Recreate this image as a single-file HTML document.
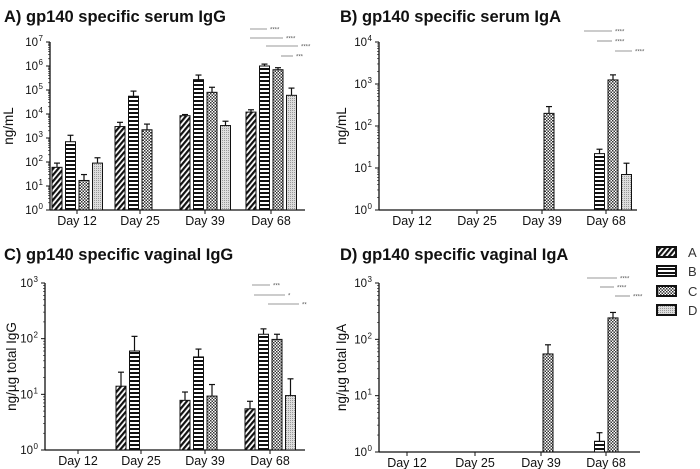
<!DOCTYPE html>
<html><head><meta charset="utf-8">
<style>
body{margin:0;background:#fff;width:700px;height:469px;overflow:hidden;font-family:"Liberation Sans",Arial,sans-serif}
svg{display:block}
</style></head>
<body>
<svg id="fig" width="700" height="469" viewBox="0 0 700 469" xmlns="http://www.w3.org/2000/svg">
<defs>
<pattern id="pA" width="4" height="4" patternUnits="userSpaceOnUse" patternTransform="rotate(40)">
<rect width="4" height="4" fill="#fff"/><rect width="2.2" height="4" fill="#111"/></pattern>
<pattern id="pB" width="4" height="4" patternUnits="userSpaceOnUse">
<rect width="4" height="4" fill="#fff"/><rect width="4" height="2" fill="#111"/></pattern>
<pattern id="pC" width="3" height="3" patternUnits="userSpaceOnUse">
<rect width="3" height="3" fill="#fff"/><rect width="1.5" height="1.5" fill="#333"/><rect x="1.5" y="1.5" width="1.5" height="1.5" fill="#333"/></pattern>
<pattern id="pD" width="2" height="2" patternUnits="userSpaceOnUse">
<rect width="2" height="2" fill="#ddd"/><rect width="1" height="1" fill="#999"/></pattern>
</defs>
</svg>
<script>
// categories
const days = ["Day 12","Day 25","Day 39","Day 68"];
const groups = ["A","B","C","D"];
// Panel A: serum IgG (null = no bar)
const aMean = [[60,700,17,90],[3000,55000,2200,null],[8500,270000,80000,3300],[12000,1000000,700000,60000]];
const aErr  = [[90,1300,30,150],[4500,90000,3800,null],[9500,420000,130000,5000],[15000,1200000,850000,120000]];
const aTicks = [0,1,2,3,4,5,6,7];
// Panel B: serum IgA
const bMean = [[null,null,null,null],[null,null,null,null],[null,null,200,null],[null,22,1250,7]];
const bErr  = [[null,null,null,null],[null,null,null,null],[null,null,290,null],[null,28,1650,13]];
const bTicks = [0,1,2,3,4];
// Panel C: vaginal IgG
const cMean = [[null,null,null,null],[14,60,null,null],[7.8,47,9.3,null],[5.5,120,97,9.5]];
const cErr  = [[null,null,null,null],[25,110,null,null],[11,65,15,null],[7.5,150,120,19]];
const cTicks = [0,1,2,3];
// Panel D: vaginal IgA
const dMean = [[null,null,null,null],[null,null,null,null],[null,null,55,null],[null,1.55,240,null]];
const dErr  = [[null,null,null,null],[null,null,null,null],[null,null,80,null],[null,2.2,300,null]];
const dTicks = [0,1,2,3];
// significance labels
const aSig = ["****","****","****","***"];
const bSig = ["****","****","****"];
const cSig = ["***","*","**"];
const dSig = ["****","****","****"];

const NS="http://www.w3.org/2000/svg";
const svg=document.getElementById('fig');
const fills=["url(#pA)","url(#pB)","url(#pC)","url(#pD)"];
function mk(tag,attrs,parent){const e=document.createElementNS(NS,tag);for(const k in attrs)e.setAttribute(k,attrs[k]);(parent||svg).appendChild(e);return e;}

function panel(cfg){
  const g=mk('g',{});
  
  
  const ppd=(cfg.y0-cfg.y1)/(cfg.ticks[cfg.ticks.length-1]-cfg.ticks[0]);
  const yS=v=>cfg.y0-(Math.log10(v)-cfg.ticks[0])*ppd;
  const t=mk('text',{x:cfg.tx,y:cfg.ty,'font-size':16.5,'font-weight':'bold',fill:'#111'},g);
  t.textContent=cfg.title;
  
  
  mk('line',{x1:cfg.ax,y1:cfg.y1,x2:cfg.ax,y2:cfg.y0,stroke:'#111','stroke-width':1.3},g);
  mk('line',{x1:cfg.ax,y1:cfg.y0,x2:cfg.x2,y2:cfg.y0,stroke:'#111','stroke-width':1.3},g);
  cfg.ticks.forEach((p,i)=>{
    const y=cfg.y0-(p-cfg.ticks[0])*ppd;
    mk('line',{x1:cfg.ax-4,y1:y,x2:cfg.ax,y2:y,stroke:'#111','stroke-width':1},g);
    if(i<cfg.ticks.length-1){for(let m=2;m<10;m++){const yy=y-Math.log10(m)*ppd;mk('line',{x1:cfg.ax-2,y1:yy,x2:cfg.ax,y2:yy,stroke:'#111','stroke-width':0.6},g);}}
    const tl=mk('text',{x:cfg.ax-12,y:y+4,'font-size':11.5,'text-anchor':'end',fill:'#111'},g);
    tl.textContent='10';
    
    
    const sp=mk('text',{x:cfg.ax-11.5,y:y-1,'font-size':8,fill:'#111'},g);
    sp.textContent=String(p);
  });
  const yt=mk('text',{x:0,y:0,'font-size':13.5,'text-anchor':'middle',fill:'#111',transform:`translate(${cfg.ytx},${(cfg.y0+cfg.y1)/2}) rotate(-90)`},g);
  yt.textContent=cfg.ylabel;
  
  
  days.forEach((d,di)=>{
    const c=cfg.centers[di];
    mk('line',{x1:c,y1:cfg.y0,x2:c,y2:cfg.y0+4,stroke:'#111','stroke-width':1},g);
    const dl=mk('text',{x:c,y:cfg.y0+15,'font-size':12.5,'text-anchor':'middle',fill:'#111'},g);
    dl.textContent=d;
    
    
    groups.forEach((gr,gi)=>{
      const v=cfg.mean[di][gi]; if(v==null) return;
      const x=c-25+gi*13.5, w=10, y=yS(v);
      const r=mk('rect',{x:x,y:y,width:w,height:cfg.y0-y,fill:fills[gi],stroke:'#111','stroke-width':1},g);
      
      
      const e=cfg.err[di][gi];
      if(e!=null){const ye=yS(e);
        mk('line',{x1:x+w/2,y1:y,x2:x+w/2,y2:ye,stroke:'#111','stroke-width':1.2},g);
        mk('line',{x1:x+w/2-3,y1:ye,x2:x+w/2+3,y2:ye,stroke:'#111','stroke-width':1.2},g);}
    });
  });
  cfg.sig.forEach((s,i)=>{
    const L=cfg.sigLines[i];
    mk('line',{x1:L[0],y1:L[2],x2:L[1],y2:L[2],stroke:'#777','stroke-width':0.8},g);
    const st=mk('text',{x:L[1]+3,y:L[2]+2.5,'font-size':6,fill:'#555'},g);
    st.textContent=s;
    
    
  });
}
panel({name:'panel-a-serum-igg',title:'A) gp140 specific serum IgG',tx:4,ty:22,ax:50,x2:305,y0:210,y1:42,ticks:aTicks,ylabel:'ng/mL',ytx:13,centers:[77,140,205,271],mean:aMean,err:aErr,sig:aSig,sigLines:[[250,267,29],[250,283,38],[266,298,46],[281,293,56]]});
panel({name:'panel-b-serum-iga',title:'B) gp140 specific serum IgA',tx:340,ty:22,ax:379,x2:637,y0:210,y1:42,ticks:bTicks,ylabel:'ng/mL',ytx:346,centers:[412,477,542,606],mean:bMean,err:bErr,sig:bSig,sigLines:[[584,612,31],[597,612,41],[615,632,51]]});
panel({name:'panel-c-vaginal-igg',title:'C) gp140 specific vaginal IgG',tx:4,ty:260,ax:45,x2:305,y0:450,y1:283,ticks:cTicks,ylabel:'ng/µg total IgG',ytx:16,centers:[78,141,205,270],mean:cMean,err:cErr,sig:cSig,sigLines:[[252,270,285],[254,285,295],[268,299,304]]});
panel({name:'panel-d-vaginal-iga',title:'D) gp140 specific vaginal IgA',tx:340,ty:260,ax:379,x2:640,y0:452,y1:283,ticks:dTicks,ylabel:'ng/µg total IgA',ytx:346,centers:[407,475,541,606],mean:dMean,err:dErr,sig:dSig,sigLines:[[587,617,278],[600,614,287],[615,630,296]]});
const lg=mk('g',{});


const legY=[252,271,291,310];
groups.forEach((gr,i)=>{
  const e=mk('g',{},lg);
  
  
  mk('rect',{x:657,y:legY[i]-5,width:19,height:10,fill:fills[i],stroke:'#111','stroke-width':2},e);
  const t=mk('text',{x:688,y:legY[i]+5,'font-size':13,fill:'#333'},e);
  t.textContent=gr;
});
</script>
</body></html>
